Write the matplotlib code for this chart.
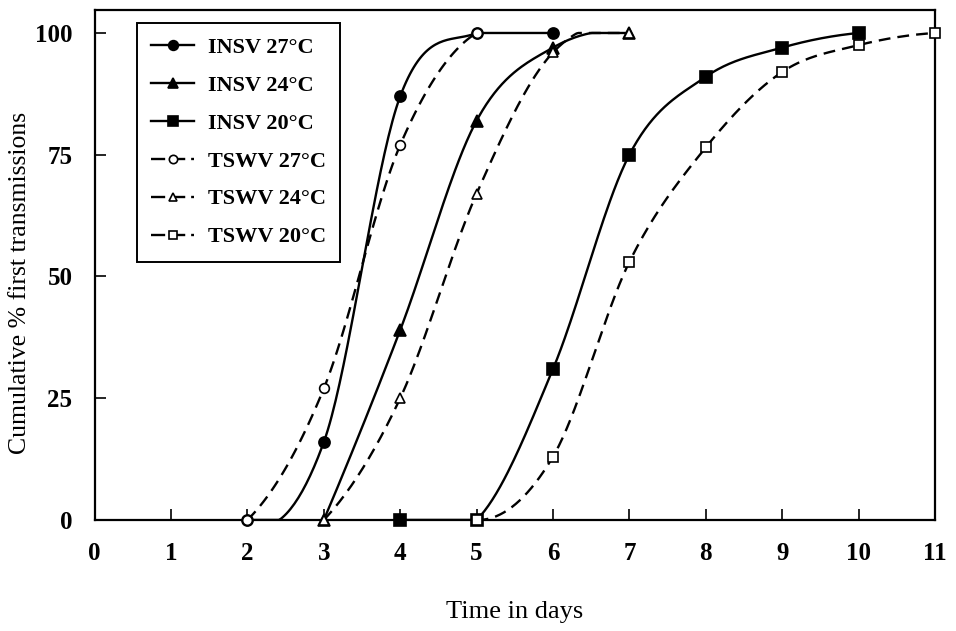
import numpy as np
import matplotlib
matplotlib.use("Agg")
import matplotlib.pyplot as plt

plt.rcParams["font.family"] = ["Liberation Serif", "DejaVu Serif"]

# data (day, cumulative % first transmissions)
insv27_x = [2, 3, 4, 5, 6]
insv27_y = [0, 16, 87, 100, 100]
insv24_x = [3, 4, 5, 6, 7]
insv24_y = [0, 39, 82, 97, 100]
insv20_x = [4, 5, 6, 7, 8, 9, 10]
insv20_y = [0, 0, 31, 75, 91, 97, 100]
tswv27_x = [2, 3, 4, 5]
tswv27_y = [0, 27, 77, 100]
tswv24_x = [3, 4, 5, 6, 7]
tswv24_y = [0, 25, 67, 96, 100]
tswv20_x = [5, 6, 7, 8, 9, 10, 11]
tswv20_y = [0, 13, 53, 76.5, 92, 97.5, 100]

labels = ["INSV 27°C", "INSV 24°C", "INSV 20°C",
          "TSWV 27°C", "TSWV 24°C", "TSWV 20°C"]
xs = [insv27_x, insv24_x, insv20_x, tswv27_x, tswv24_x, tswv20_x]
ys = [insv27_y, insv24_y, insv20_y, tswv27_y, tswv24_y, tswv20_y]
markers = ["o", "^", "s", "o", "^", "s"]
filled = [True, True, True, False, False, False]


def smooth(x, y, n=40):
    """Catmull-Rom style smoothing (like spreadsheet 'smoothed line')."""
    x = np.asarray(x, float); y = np.asarray(y, float)
    m = np.zeros_like(y)
    m[1:-1] = (y[2:] - y[:-2]) / (x[2:] - x[:-2])
    # parabolic end conditions
    m[0] = 2 * (y[1] - y[0]) / (x[1] - x[0]) - m[1]
    m[-1] = 2 * (y[-1] - y[-2]) / (x[-1] - x[-2]) - m[-2]
    xx, yy = [], []
    for i in range(len(x) - 1):
        h = x[i + 1] - x[i]
        t = np.linspace(0, 1, n)
        h00 = 2 * t**3 - 3 * t**2 + 1
        h10 = t**3 - 2 * t**2 + t
        h01 = -2 * t**3 + 3 * t**2
        h11 = t**3 - t**2
        xx.append(x[i] + t * h)
        yy.append(h00 * y[i] + h10 * h * m[i] + h01 * y[i + 1] + h11 * h * m[i + 1])
    return np.concatenate(xx), np.clip(np.concatenate(yy), 0, y.max())


fig = plt.figure(figsize=(9.56, 6.31), dpi=100)
ax = fig.add_axes([0.099, 0.176, 0.879, 0.808])

for x, y, mk, f, lab in zip(xs, ys, markers, filled, labels):
    sx, sy = smooth(x, y)
    ls = "-" if f else (0, (5, 3))
    ax.plot(sx, sy, color="black", lw=1.7, ls=ls)
    ax.plot(x, y, ls="none", marker=mk, ms=8 if f else 7,
            mfc="black" if f else "white", mec="black", mew=1.2, clip_on=False, zorder=3)
    # legend proxy
    ax.plot([], [], color="black", lw=1.7, ls="-" if f else (0, (6, 2.5)), marker=mk,
            ms=7 if f else 6, mfc="black" if f else "white", mec="black", mew=1.2,
            label=lab)

ax.set_xlim(0, 11)
ax.set_ylim(0, 104.7)
ax.set_xticks(range(0, 12))
ax.set_yticks([0, 25, 50, 75, 100])
ax.tick_params(direction="in", length=8, width=1.2, labelsize=18, pad=16)
ax.tick_params(axis="y", pad=16)
for lab in ax.get_xticklabels() + ax.get_yticklabels():
    lab.set_fontweight("bold")
for s in ax.spines.values():
    s.set_linewidth(1.6)

ax.set_xlabel("Time in days", fontsize=19, labelpad=26)
ax.set_ylabel("Cumulative % first transmissions", fontsize=18.5)
ax.yaxis.set_label_coords(-0.076, 0.465)

leg = ax.legend(loc="upper left", bbox_to_anchor=(0.05, 0.975), borderaxespad=0,
                frameon=True, fancybox=False, framealpha=1, edgecolor="black",
                handlelength=1.95, handletextpad=0.6, prop={"size": 16, "weight": "bold"},
                labelspacing=0.78, borderpad=0.65)
leg.get_frame().set_linewidth(1.4)

fig.savefig("out.png", dpi=100)
